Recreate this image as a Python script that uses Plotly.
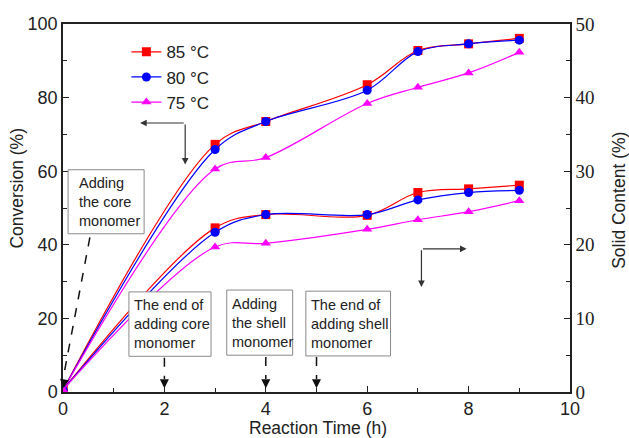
import plotly.graph_objects as go

time_h = [0, 3, 4, 6, 7, 8, 9]
conv_85 = [0.5, 67.3, 73.5, 83.5, 92.8, 94.6, 96.1]
conv_80 = [0.5, 65.9, 73.5, 82.0, 92.5, 94.6, 95.6]
conv_75 = [0.5, 60.6, 63.7, 78.4, 82.8, 86.7, 92.3]
solid_85 = [0.3, 22.3, 24.1, 24.0, 27.1, 27.6, 28.1]
solid_80 = [0.3, 21.7, 24.1, 24.1, 26.1, 27.1, 27.4]
solid_75 = [0.3, 19.7, 20.2, 22.1, 23.4, 24.5, 26.0]
series_names = ["85 °C", "80 °C", "75 °C"]
colors = ["#ff0000", "#0000ff", "#ff00ff"]
symbols = ["square", "circle", "triangle-up"]

event_texts = ["Adding<br>the core<br>monomer",
               "The end of<br>adding core<br>monomer",
               "Adding<br>the shell<br>monomer",
               "The end of<br>adding shell<br>monomer"]
event_times = [0, 2, 4, 5]

SANS = "Liberation Sans, Arial, sans-serif"
SERIF = "Liberation Serif, Times New Roman, serif"

fig = go.Figure()
for name, c, s, y in zip(series_names, colors, symbols, [conv_85, conv_80, conv_75]):
    fig.add_trace(go.Scatter(x=time_h, y=y, name=name, mode="lines+markers",
                             line=dict(color=c, width=1.2, shape="spline", smoothing=1),
                             marker=dict(color=c, symbol=s, size=9), yaxis="y"))
for name, c, s, y in zip(series_names, colors, symbols, [solid_85, solid_80, solid_75]):
    fig.add_trace(go.Scatter(x=time_h, y=y, name=name, mode="lines+markers", showlegend=False,
                             line=dict(color=c, width=1.2, shape="spline", smoothing=1),
                             marker=dict(color=c, symbol=s, size=9), yaxis="y2"))

axcol = "#222222"
fig.update_layout(
    width=629, height=438,
    margin=dict(l=63, r=59, t=24, b=46, autoexpand=False),
    plot_bgcolor="white", paper_bgcolor="white",
    font=dict(family=SANS, size=17, color="#222"),
    showlegend=True,
    legend=dict(x=0.125, y=0.972, xanchor="left", yanchor="top",
                font=dict(family=SANS, size=17, color="#222"),
                bgcolor="rgba(0,0,0,0)", tracegroupgap=0, itemwidth=30),
    xaxis=dict(range=[0, 10], dtick=2, tick0=0, ticks="inside", ticklen=6, tickwidth=1.2,
               tickcolor=axcol, showline=True, linecolor=axcol, linewidth=1.5, mirror=True,
               showgrid=False, zeroline=False, automargin=False,
               minor=dict(dtick=1, ticks="inside", ticklen=4, tickcolor=axcol, showgrid=False),
               tickfont=dict(family=SANS, size=18)),
    yaxis=dict(range=[0, 100], dtick=20, ticks="inside", ticklen=6, tickwidth=1.2,
               tickcolor=axcol, showline=True, linecolor=axcol, linewidth=1.5,
               showgrid=False, zeroline=False, automargin=False,
               minor=dict(dtick=10, ticks="inside", ticklen=4, tickcolor=axcol, showgrid=False),
               tickfont=dict(family=SANS, size=18)),
    yaxis2=dict(range=[0, 50], dtick=10, overlaying="y", side="right", ticks="inside",
                ticklen=6, tickwidth=1.2, tickcolor=axcol, showline=True, linecolor=axcol,
                linewidth=1.5, showgrid=False, zeroline=False, automargin=False,
                minor=dict(dtick=5, ticks="inside", ticklen=4, tickcolor=axcol, showgrid=False),
                tickfont=dict(family=SERIF, size=19)),
)

# Axis titles
fig.add_annotation(text="Reaction Time (h)", xref="paper", yref="paper", x=0.503, y=-0.099,
                   xanchor="center", yanchor="middle", showarrow=False,
                   font=dict(family=SANS, size=17.5, color="#222"))
fig.add_annotation(text="Conversion (%)", xref="paper", yref="paper", x=-0.091, y=0.555,
                   xanchor="center", yanchor="middle", showarrow=False, textangle=-90,
                   font=dict(family=SANS, size=17.5, color="#222"))
fig.add_annotation(text="Solid Content (%)", xref="paper", yref="paper", x=1.095, y=0.52,
                   xanchor="center", yanchor="middle", showarrow=False, textangle=-90,
                   font=dict(family=SANS, size=17.5, color="#222"))

# Event boxes (data coordinates): x0, x1, y0, y1, text x offset
boxes = [(0.10, 1.60, 43.0, 60.4, 0.17),
         (1.30, 2.92, 9.7, 27.2, 0.07),
         (3.23, 4.53, 10.0, 27.7, 0.07),
         (4.79, 6.46, 9.8, 27.4, 0.07)]
for txt, (x0, x1, y0, y1, dx) in zip(event_texts, boxes):
    fig.add_shape(type="rect", xref="x", yref="y", x0=x0, x1=x1, y0=y0, y1=y1,
                  line=dict(color="#8a8a8a", width=1), fillcolor="white", layer="above")
    fig.add_annotation(x=x0 + dx, y=(y0 + y1) / 2, xref="x", yref="y", text=txt,
                       showarrow=False, xanchor="left", yanchor="middle", align="left",
                       font=dict(family=SANS, size=14.5, color="#222"))

# Dashed arrows from boxes to time axis
dash_starts = [(0.53, 42.0), (2, 9.3), (4, 9.5), (5, 9.5)]
for t, (sx, sy) in zip(event_times, dash_starts):
    tip_y = 1.0
    fig.add_shape(type="line", xref="x", yref="y", x0=sx, y0=sy, x1=t, y1=tip_y + 2.5,
                  line=dict(color="#111", width=1.5, dash="dash"))
    ax, ay = (1.4, -8) if t == 0 else (0, -8)
    fig.add_annotation(x=t, y=tip_y, xref="x", yref="y", ax=ax, ay=ay, text="",
                       showarrow=True, arrowhead=2, arrowsize=1.2, arrowwidth=1.5,
                       arrowcolor="#111")

# Axis-indicator arrows
for (cx, cy), tips in [((2.41, 73.1), [(1.52, 73.1), (2.41, 61.8)]),
                       ((7.07, 38.9), [(7.96, 38.9), (7.07, 28.5)])]:
    for tx, ty in tips:
        fig.add_annotation(x=tx, y=ty, xref="x", yref="y", ax=cx, ay=cy, axref="x", ayref="y",
                           text="", showarrow=True, arrowhead=2, arrowsize=1.1,
                           arrowwidth=1.2, arrowcolor="#333")

fig.write_html("out.html")
